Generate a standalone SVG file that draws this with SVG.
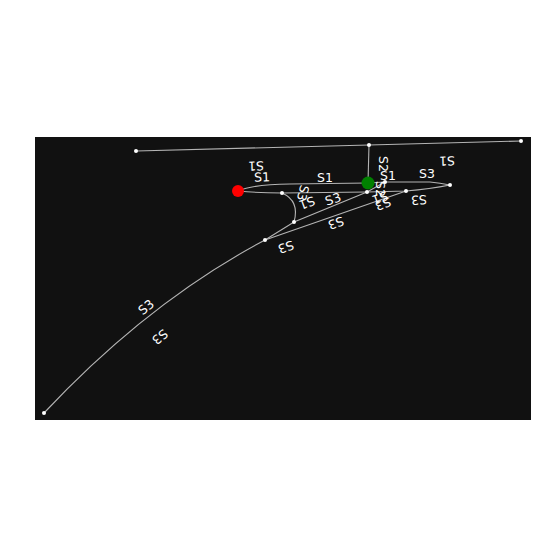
<svg xmlns="http://www.w3.org/2000/svg" width="550" height="550" viewBox="0 0 550 550">
<style>
.e{fill:none;stroke:#b4b4b4;stroke-width:1.1}
.d{fill:#ffffff}
.l{fill:#ffffff;font-family:"DejaVu Sans",sans-serif;font-size:12.5px;text-anchor:middle;dominant-baseline:central}
</style>
<rect x="0" y="0" width="550" height="550" fill="#ffffff"/>
<rect x="35" y="137" width="496" height="283" fill="#111111"/>
<g id="connectors">
<path class="e" d="M136,151 L369,145"/>
<path class="e" d="M369,145 L521,141"/>
<path class="e" d="M369,145 L368,183"/>
<path class="e" d="M238,191 C250,186 265,184 290,184 L368,183"/>
<path class="e" d="M368,183 L385,182 L430,182 Q440,183 450,185"/>
<path class="e" d="M238,191 Q260,193 282,193"/>
<path class="e" d="M282,193 L367,192"/>
<path class="e" d="M367,192 L406,191 Q430,189 450,185"/>
<path class="e" d="M282,193 Q300,201 294,222"/>
<path class="e" d="M265,240 L294,222 L367,192 L385,182"/>
<path class="e" d="M265,240 L406,191"/>
<path class="e" d="M44,413 Q148,302 265,240"/>
</g>
<g id="labels">
<text class="l" transform="translate(256,166) rotate(178.5)">S1</text>
<text class="l" transform="translate(262,177) rotate(-2)">S1</text>
<text class="l" transform="translate(325,177)">S1</text>
<text class="l" transform="translate(383,164) rotate(90)">S2</text>
<text class="l" transform="translate(388,175)">S1</text>
<text class="l" transform="translate(427,173)">S3</text>
<text class="l" transform="translate(447,161) rotate(178.5)">S1</text>
<text class="l" transform="translate(419,200) rotate(176)">S3</text>
<text class="l" transform="translate(333,199) rotate(-18)">S3</text>
<text class="l" transform="translate(336,223) rotate(161)">S3</text>
<text class="l" transform="translate(286,247) rotate(161)">S3</text>
<text class="l" transform="translate(146,307) rotate(-40)">S3</text>
<text class="l" transform="translate(160,337) rotate(140)">S3</text>
<text class="l" transform="translate(380,189) rotate(90)">S2</text>
<text class="l" transform="translate(380,198) rotate(160)">S1</text>
<text class="l" transform="translate(383,204) rotate(160)">S3</text>
<text class="l" transform="translate(303,193) rotate(105)">S3</text>
<text class="l" transform="translate(307,203) rotate(160)">S1</text>
</g>
<g id="n1"><circle class="d" cx="136" cy="151" r="2"/></g>
<g id="n2"><circle class="d" cx="369" cy="145" r="2"/></g>
<g id="n3"><circle class="d" cx="521" cy="141" r="2"/></g>
<g id="n4"><circle class="d" cx="282" cy="193" r="2"/></g>
<g id="n5"><circle class="d" cx="367" cy="192" r="2"/></g>
<g id="n6"><circle class="d" cx="385" cy="182" r="2"/></g>
<g id="n7"><circle class="d" cx="406" cy="191" r="2"/></g>
<g id="n8"><circle class="d" cx="450" cy="185" r="2"/></g>
<g id="n9"><circle class="d" cx="294" cy="222" r="2"/></g>
<g id="n10"><circle class="d" cx="265" cy="240" r="2"/></g>
<g id="n11"><circle class="d" cx="44" cy="413" r="2"/></g>
<g id="red"><circle cx="238" cy="191" r="6" fill="#ff0000"/></g>
<g id="green"><circle cx="368" cy="183" r="6.5" fill="#008000"/></g>
</svg>
